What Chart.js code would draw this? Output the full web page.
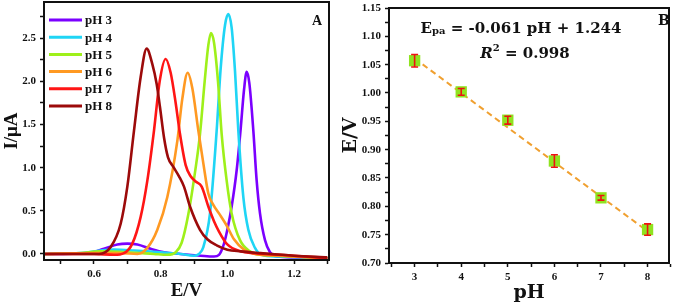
<!DOCTYPE html>
<html lang="en">
<head>
<meta charset="UTF-8">
<title>DPV peaks vs pH</title>
<script src="https://cdn.jsdelivr.net/npm/chart.js"></script>
<style>
  body { margin: 0; background: #fff; }
  .panel { position: absolute; top: 0; height: 307px; }
  #panelA { left: 0; width: 340px; }
  #panelB { left: 340px; width: 337px; }
</style>
</head>
<body>
<div class="panel" id="panelA"><canvas id="dpvChart" width="340" height="307"></canvas></div>
<div class="panel" id="panelB"><canvas id="fitChart" width="337" height="307"></canvas></div>
<script>
// ---- Panel A: DPV curves (E in V, I in uA)
const curveLabels = ["pH 3", "pH 4", "pH 5", "pH 6", "pH 7", "pH 8"];
const curveColors = ["#7b00ff", "#1fd5f5", "#9ef01a", "#ff9922", "#ff1515", "#9c0a0a"];

const ph3E = [0.45, 0.58, 0.63, 0.67, 0.70, 0.73, 0.77, 0.81, 0.86, 0.92, 0.96, 0.975, 0.99, 1.0, 1.013, 1.028, 1.04, 1.05, 1.058, 1.066, 1.078, 1.088, 1.098, 1.113, 1.128, 1.15, 1.2, 1.3];
const ph3I = [0, 0.01, 0.06, 0.11, 0.12, 0.11, 0.06, 0.02, 0.0, -0.02, -0.03, -0.01, 0.12, 0.28, 0.55, 0.97, 1.45, 1.9, 2.11, 1.98, 1.43, 0.85, 0.47, 0.16, 0.02, -0.03, -0.04, -0.05];

const ph4E = [0.45, 0.56, 0.62, 0.66, 0.72, 0.80, 0.86, 0.90, 0.915, 0.928, 0.948, 0.968, 0.98, 0.993, 1.003, 1.013, 1.023, 1.033, 1.048, 1.063, 1.083, 1.103, 1.15, 1.3];
const ph4I = [0, 0.01, 0.04, 0.05, 0.04, 0.02, 0.0, -0.02, 0.0, 0.08, 0.47, 1.43, 2.15, 2.65, 2.78, 2.62, 2.12, 1.43, 0.66, 0.28, 0.07, -0.01, -0.03, -0.05];

const ph5E = [0.45, 0.56, 0.62, 0.70, 0.78, 0.82, 0.845, 0.863, 0.883, 0.905, 0.918, 0.932, 0.943, 0.951, 0.96, 0.972, 0.983, 0.998, 1.013, 1.038, 1.068, 1.10, 1.15, 1.3];
const ph5I = [0, 0.01, 0.03, 0.02, 0.0, -0.01, 0.02, 0.13, 0.46, 1.0, 1.39, 2.0, 2.42, 2.56, 2.45, 2.0, 1.39, 0.85, 0.47, 0.16, 0.03, -0.01, -0.02, -0.05];

const ph6E = [0.45, 0.60, 0.68, 0.73, 0.76, 0.79, 0.82, 0.85, 0.865, 0.881, 0.895, 0.913, 0.928, 0.943, 0.958, 0.975, 0.998, 1.02, 1.05, 1.083, 1.15, 1.3];
const ph6I = [0, 0.01, 0.01, 0.0, 0.07, 0.28, 0.66, 1.31, 1.80, 2.10, 1.92, 1.43, 1.05, 0.70, 0.57, 0.47, 0.33, 0.17, 0.05, 0.0, -0.02, -0.05];

const ph7E = [0.45, 0.60, 0.66, 0.69, 0.715, 0.74, 0.76, 0.78, 0.797, 0.815, 0.83, 0.845, 0.858, 0.875, 0.89, 0.905, 0.923, 0.943, 0.96, 0.975, 1.0, 1.04, 1.08, 1.2, 1.3];
const ph7I = [0, 0.0, -0.01, 0.01, 0.12, 0.43, 0.85, 1.43, 2.0, 2.26, 2.1, 1.75, 1.39, 1.03, 0.90, 0.84, 0.78, 0.55, 0.38, 0.26, 0.11, 0.03, 0.01, -0.02, -0.05];

const ph8E = [0.45, 0.60, 0.615, 0.65, 0.68, 0.70, 0.72, 0.74, 0.758, 0.775, 0.788, 0.798, 0.81, 0.822, 0.838, 0.855, 0.87, 0.888, 0.918, 0.94, 0.968, 1.0, 1.04, 1.1, 1.2, 1.3];
const ph8I = [0, 0.0, 0.0, 0.08, 0.35, 0.78, 1.43, 2.05, 2.38, 2.2, 1.97, 1.70, 1.35, 1.12, 1.01, 0.90, 0.78, 0.55, 0.28, 0.17, 0.10, 0.05, 0.03, 0.01, -0.02, -0.04];

const curvesE = [ph3E, ph4E, ph5E, ph6E, ph7E, ph8E];
const curvesI = [ph3I, ph4I, ph5I, ph6I, ph7I, ph8I];

// ticks: every value gets a tick mark, only the labelled ones get text
const aXTicks = [0.5, 0.6, 0.7, 0.8, 0.9, 1.0, 1.1, 1.2, 1.3];
const aXLabels = [0.6, 0.8, 1.0, 1.2];
const aYTicks = [0, 0.25, 0.5, 0.75, 1.0, 1.25, 1.5, 1.75, 2.0, 2.25, 2.5, 2.75];
const aYLabels = [0, 0.5, 1.0, 1.5, 2.0, 2.5];

// ---- Panel B: peak potential vs pH
const phValues = [3, 4, 5, 6, 7, 8];
const peakPotential = [1.057, 1.002, 0.952, 0.880, 0.815, 0.759];
const potentialErr = [0.011, 0.006, 0.007, 0.011, 0.004, 0.010];
const fitPh = [3, 8];
const fitPotential = [1.061, 0.756];

const bXTicks = [2.5, 3, 3.5, 4, 4.5, 5, 5.5, 6, 6.5, 7, 7.5, 8, 8.5];
const bXLabels = [3, 4, 5, 6, 7, 8];
const bYTicks = [0.70, 0.725, 0.75, 0.775, 0.80, 0.825, 0.85, 0.875, 0.90, 0.925, 0.95, 0.975, 1.00, 1.025, 1.05, 1.075, 1.10, 1.125, 1.15];
const bYLabels = [0.70, 0.75, 0.80, 0.85, 0.90, 0.95, 1.00, 1.05, 1.10, 1.15];

const serifA = "'Liberation Serif', 'Times New Roman', serif";
const serifB = "'DejaVu Serif', serif";
const ink = "#111";

function axisStyle(ticks, labels, digits, size) {
    return {
        afterBuildTicks: axis => { axis.ticks = ticks.map(v => ({ value: v })); },
        ticks: {
            autoSkip: false, maxRotation: 0, color: ink, padding: 4,
            font: { family: serifA, size: size, weight: "bold" },
            callback: v => labels.includes(v) ? v.toFixed(digits) : ""
        },
        grid: { drawOnChartArea: false, drawTicks: true, tickLength: 4, tickColor: ink, tickWidth: 1.5 },
        border: { display: true, color: ink, width: 2 }
    };
}

// fixed box sizes so the plot area sits where it does in the figure
function fixHeight(h) {
    return s => { s.height = h; s.paddingLeft = 0; s.paddingRight = 0; };
}
function fixWidth(w) {
    return s => { s.width = w; s.paddingTop = 0; s.paddingBottom = 0; };
}

const frame = {
    id: "frame",
    afterDraw(chart) {
        const { ctx, chartArea: a } = chart;
        ctx.save();
        ctx.strokeStyle = ink;
        ctx.lineWidth = 2;
        ctx.strokeRect(a.left, a.top, a.right - a.left, a.bottom - a.top);
        ctx.restore();
    }
};

const dpvLegend = {
    id: "dpvLegend",
    afterDraw(chart) {
        const ctx = chart.ctx;
        ctx.save();
        ctx.font = "bold 13px " + serifA;
        ctx.textBaseline = "middle";
        chart.data.datasets.forEach((ds, i) => {
            const y = 20 + i * 17.2;
            ctx.strokeStyle = ds.borderColor;
            ctx.lineWidth = 3;
            ctx.beginPath();
            ctx.moveTo(49, y);
            ctx.lineTo(82, y);
            ctx.stroke();
            ctx.fillStyle = ink;
            ctx.fillText(ds.label, 85, y + 1);
        });
        ctx.font = "bold 14px " + serifA;
        ctx.textBaseline = "alphabetic";
        ctx.fillText("A", 312, 25);
        ctx.restore();
    }
};

const xA = axisStyle(aXTicks, aXLabels, 1, 11);
xA.type = "linear"; xA.min = 0.45; xA.max = 1.305;
xA.afterFit = fixHeight(47);
xA.title = { display: true, text: "E/V", color: ink, font: { family: serifA, size: 19, weight: "bold" }, padding: { top: 0, bottom: 5 } };

const yA = axisStyle(aYTicks, aYLabels, 1, 11);
yA.min = -0.07; yA.max = 2.92;
yA.afterFit = fixWidth(44);
yA.title = { display: true, text: "I/μA", color: ink, font: { family: serifA, size: 19, weight: "bold" }, padding: { top: 1, bottom: 0 } };

new Chart(document.getElementById("dpvChart"), {
    type: "line",
    data: {
        datasets: curveLabels.map((label, i) => ({
            label: label,
            data: curvesE[i].map((e, k) => ({ x: e, y: curvesI[i][k] })),
            borderColor: curveColors[i],
            borderWidth: 2.6,
            pointRadius: 0,
            cubicInterpolationMode: "monotone",
            order: curveLabels.length - 1 - i
        }))
    },
    options: {
        responsive: false, animation: false, devicePixelRatio: 1,
        layout: { padding: { top: 2, right: 11, left: 0, bottom: 0 } },
        plugins: { legend: { display: false }, tooltip: { enabled: false } },
        scales: { x: xA, y: yA }
    },
    plugins: [frame, dpvLegend]
});

// ---- Panel B
const errorBars = {
    id: "errorBars",
    afterDatasetsDraw(chart) {
        const { ctx, scales } = chart;
        ctx.save();
        ctx.strokeStyle = "#ee1111";
        ctx.lineWidth = 1.6;
        phValues.forEach((ph, i) => {
            const x = scales.x.getPixelForValue(ph);
            const lo = scales.y.getPixelForValue(peakPotential[i] - potentialErr[i]);
            const hi = scales.y.getPixelForValue(peakPotential[i] + potentialErr[i]);
            ctx.beginPath();
            ctx.moveTo(x, lo); ctx.lineTo(x, hi);
            ctx.moveTo(x - 3.5, lo); ctx.lineTo(x + 3.5, lo);
            ctx.moveTo(x - 3.5, hi); ctx.lineTo(x + 3.5, hi);
            ctx.stroke();
        });
        ctx.restore();
    }
};

const fitNote = {
    id: "fitNote",
    afterDraw(chart) {
        const ctx = chart.ctx;
        ctx.save();
        ctx.fillStyle = ink;
        ctx.textBaseline = "alphabetic";
        const big = "bold 15px " + serifB;
        const small = "bold 10px " + serifB;
        // line 1: Epa = -0.061 pH + 1.244
        const rest = " = -0.061 pH + 1.244";
        ctx.font = big; const wE = ctx.measureText("E").width; const wRest = ctx.measureText(rest).width;
        ctx.font = small; const wSub = ctx.measureText("pa").width;
        let x = 181 - (wE + wSub + wRest) / 2;
        ctx.font = big; ctx.fillText("E", x, 33); x += wE;
        ctx.font = small; ctx.fillText("pa", x, 34); x += wSub;
        ctx.font = big; ctx.fillText(rest, x, 33);
        // line 2: R² = 0.998
        const ital = "italic bold 15px " + serifB;
        const rest2 = " = 0.998";
        ctx.font = ital; const wR = ctx.measureText("R").width;
        ctx.font = small; const wSq = ctx.measureText("2").width;
        ctx.font = big; const wRest2 = ctx.measureText(rest2).width;
        x = 185 - (wR + wSq + wRest2) / 2;
        ctx.font = ital; ctx.fillText("R", x, 58); x += wR;
        ctx.font = small; ctx.fillText("2", x, 51); x += wSq;
        ctx.font = big; ctx.fillText(rest2, x, 58);
        ctx.font = "bold 14px " + serifB;
        ctx.fillText("B", 318, 25);
        ctx.restore();
    }
};

const xB = axisStyle(bXTicks, bXLabels, 0, 11);
xB.type = "linear"; xB.min = 2.45; xB.max = 8.46;
xB.afterFit = fixHeight(44);
xB.title = { display: true, text: "pH", color: ink, font: { family: serifB, size: 19, weight: "bold" }, padding: { top: 0, bottom: 3 } };

const yB = axisStyle(bYTicks, bYLabels, 2, 11);
yB.min = 0.70; yB.max = 1.15;
yB.afterFit = fixWidth(49);
yB.title = { display: true, text: "E/V", color: ink, font: { family: serifB, size: 19, weight: "bold" }, padding: { top: 0, bottom: 0 } };

new Chart(document.getElementById("fitChart"), {
    type: "scatter",
    data: {
        datasets: [
            {
                type: "line",
                label: "fit",
                data: fitPh.map((ph, i) => ({ x: ph, y: fitPotential[i] })),
                borderColor: "#f0a030",
                borderWidth: 2,
                borderDash: [6, 4],
                pointRadius: 0,
                order: 2
            },
            {
                label: "Epa",
                data: phValues.map((ph, i) => ({ x: ph, y: peakPotential[i] })),
                pointStyle: "rect",
                pointRadius: 8,
                backgroundColor: "#8fe31f",
                borderWidth: 0,
                order: 1
            }
        ]
    },
    options: {
        responsive: false, animation: false, devicePixelRatio: 1,
        layout: { padding: { top: 5, right: 3, left: 0, bottom: 0 } },
        plugins: { legend: { display: false }, tooltip: { enabled: false } },
        scales: { x: xB, y: yB }
    },
    plugins: [frame, errorBars, fitNote]
});
</script>
</body>
</html>
